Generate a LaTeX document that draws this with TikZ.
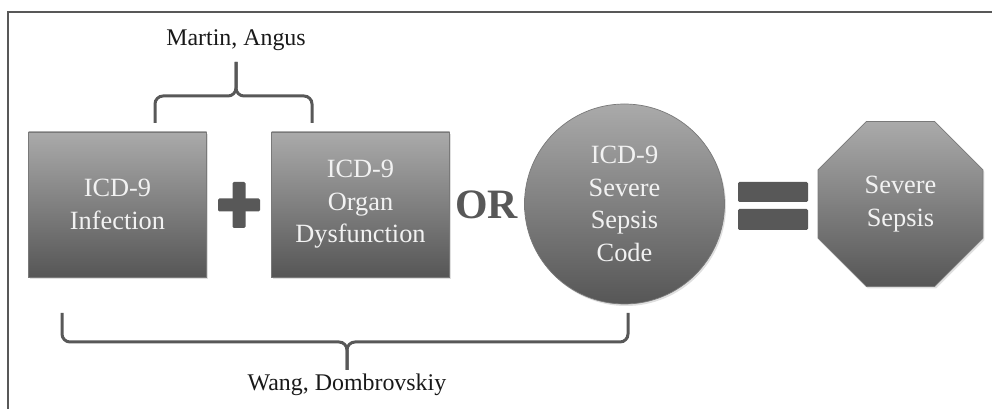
\documentclass[tikz,border=0pt]{standalone}
\usepackage{fontspec}
\setmainfont{Liberation Serif}
\usetikzlibrary{positioning}
\usetikzlibrary{shapes.geometric}
\usetikzlibrary{shadows}
\definecolor{shadetop}{RGB}{170,170,170}
\definecolor{shadebot}{RGB}{86,86,86}
\definecolor{ink}{RGB}{88,88,88}
\definecolor{labelink}{RGB}{25,25,25}

\tikzset{
  shaded/.style={top color=shadetop, bottom color=shadebot, draw=ink!80, line width=0.4pt,
    text=white!95!black, align=center, font=\fontsize{15}{18.5}\selectfont,
    drop shadow={opacity=0.25, shadow xshift=0.03cm, shadow yshift=-0.04cm}},
  codebox/.style={shaded, rectangle, minimum width=3.56cm, minimum height=2.9cm},
  bracket/.style={draw=ink, line width=0.06cm, rounded corners=0.16cm},
  author/.style={font=\fontsize{13.6}{16}\selectfont, text=labelink},
  bar/.style={fill=ink, rounded corners=0.8pt}
}

\begin{document}
\begin{tikzpicture}[scale=1.0]
    \useasboundingbox (0,0) rectangle (19.84,-8.18);
    \draw[ink, line width=0.04cm] (0.16,-8.3) -- (0.16,-0.24) -- (19.84,-0.24);

    \node[codebox] (infect) at (2.35,-4.09) {ICD-9\\Infection};
    \node[codebox] (organ) at (7.21,-4.09) {ICD-9\\Organ\\Dysfunction};
    \node[shaded, circle, minimum size=4.0cm] (code) at (12.49,-4.08) {ICD-9\\Severe\\Sepsis\\Code};
    \node[shaded, regular polygon, regular polygon sides=8, minimum size=3.57cm] (sepsis) at (18.01,-4.08) {Severe\\Sepsis};

    % plus and equals signs
    \coordinate (plus) at (4.78,-4.10);
    \fill[bar] ([xshift=-0.13cm, yshift=-0.46cm]plus) rectangle ([xshift=0.13cm, yshift=0.46cm]plus);
    \fill[bar] ([xshift=-0.42cm, yshift=-0.13cm]plus) rectangle ([xshift=0.42cm, yshift=0.13cm]plus);
    \node[font=\bfseries\fontsize{23.8}{26}\selectfont, text=ink] (or) at (9.73,-4.10) {OR};
    \fill[bar] (14.76,-3.64) rectangle (16.16,-4.04);
    \fill[bar] (14.76,-4.18) rectangle (16.16,-4.60);

    % brackets over and under the boxes
    \node[author] (martin) at (4.72,-0.80) {Martin, Angus};
    \draw[bracket] (3.10,-2.46) -- (3.10,-1.92) -- (4.72,-1.92) -- (4.72,-1.24);
    \draw[bracket] (6.24,-2.46) -- (6.24,-1.92) -- (4.72,-1.92) -- (4.72,-1.24);

    \node[author] (wang) at (6.94,-7.70) {Wang, Dombrovskiy};
    \draw[bracket] (1.24,-6.26) -- (1.24,-6.84) -- (6.94,-6.84) -- (6.94,-7.40);
    \draw[bracket] (12.56,-6.26) -- (12.56,-6.84) -- (6.94,-6.84) -- (6.94,-7.40);
\end{tikzpicture}
\end{document}
